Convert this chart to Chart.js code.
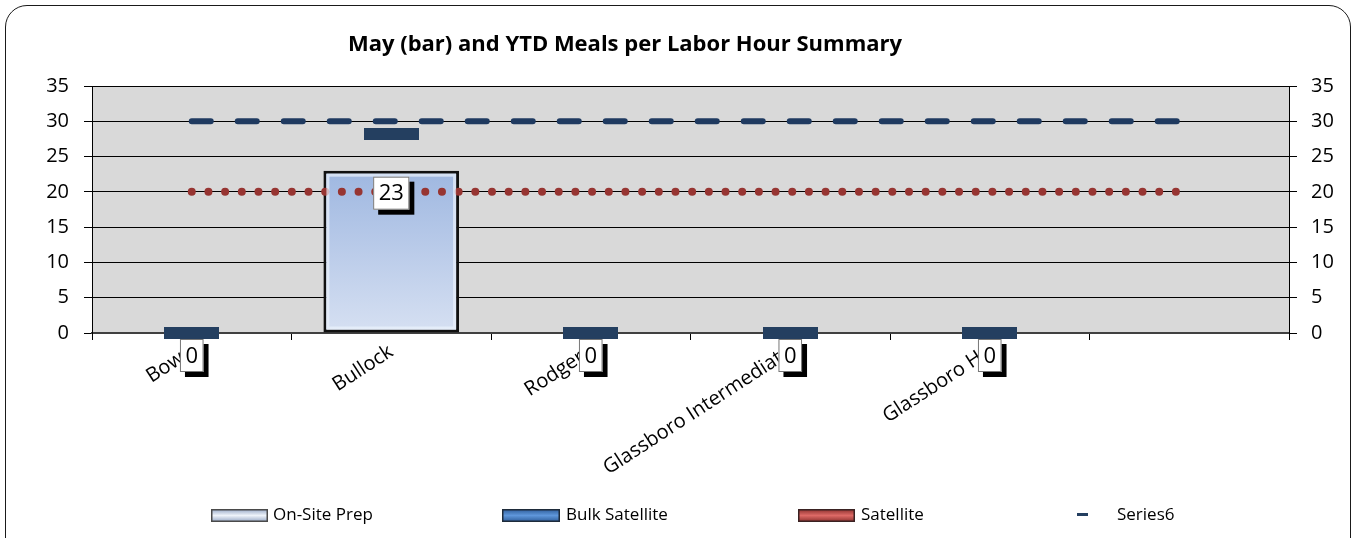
<!DOCTYPE html>
<html>
<head>
<meta charset="utf-8">
<script src="https://cdn.jsdelivr.net/npm/chart.js@4.4.0/dist/chart.umd.min.js"></script>
<style>
  html, body { margin: 0; padding: 0; background: #fff; overflow: hidden; }
  #wrap { position: relative; width: 1353px; height: 538px; }
  #frame { position: absolute; left: 5px; top: 5px; width: 1346px; height: 570px; border: 1.5px solid #1a1a1a; border-radius: 22px; box-sizing: border-box; pointer-events: none; }
  canvas { position: absolute; left: 0; top: 0; }
</style>
</head>
<body>
<div id="wrap">
  <canvas id="mealsChart" width="1353" height="538"></canvas>
  <div id="frame"></div>
</div>
<script>
// chart values
const schools = ['Bowe', 'Bullock', 'Rodgers', 'Glassboro Intermediate', 'Glassboro HS', ''];
const onSitePrep = [0, 23, 0, 0, 0, null];
const bulkSatellite = [30, 30, 30, 30, 30, 30];
const satellite = [20, 20, 20, 20, 20, 20];
const series6 = [0, 28.2, 0, 0, 0, null];
const yTicks = [0, 5, 10, 15, 20, 25, 30, 35];
const chartTitle = 'May (bar) and YTD Meals per Labor Hour Summary';
const legendNames = ['On-Site Prep', 'Bulk Satellite', 'Satellite', 'Series6'];

const FONT = '"Open Sans", "DejaVu Sans", sans-serif';
Chart.defaults.font.family = FONT;
Chart.defaults.color = '#000';

// big dash marker used for Series6
function dashMarker(w, h, color) {
    const c = document.createElement('canvas');
    c.width = w;
    c.height = h;
    const g = c.getContext('2d');
    g.fillStyle = color;
    g.fillRect(0, 0, w, h);
    return c;
}

function barFill(context) {
    const chart = context.chart;
    const area = chart.chartArea;
    if (!area) return '#B9CBEA';
    const g = chart.ctx.createLinearGradient(0, area.top + 80, 0, area.bottom);
    g.addColorStop(0, '#9DB6E0');
    g.addColorStop(1, '#D6E0F2');
    return g;
}

function drawLegendBar(ctx, x, y, w, h, edge, mid, border) {
    const g = ctx.createLinearGradient(0, y, 0, y + h);
    g.addColorStop(0, edge);
    g.addColorStop(0.5, mid);
    g.addColorStop(1, edge);
    ctx.fillStyle = g;
    ctx.fillRect(x, y, w, h);
    ctx.strokeStyle = border;
    ctx.lineWidth = 1.5;
    ctx.strokeRect(x + 0.75, y + 0.75, w - 1.5, h - 1.5);
}

const decorPlugin = {
    id: 'decor',
    beforeDraw(chart) {
        const { ctx, chartArea: a } = chart;
        ctx.save();
        ctx.fillStyle = '#D9D9D9';
        ctx.fillRect(a.left, a.top, a.right - a.left, a.bottom - a.top);
        ctx.restore();
    },
    afterDatasetsDraw(chart) {
        // soft inner highlight on the bar edges
        const ctx = chart.ctx;
        const meta = chart.getDatasetMeta(0);
        ctx.save();
        meta.data.forEach((el, i) => {
            if (!onSitePrep[i]) return;
            const left = el.x - el.width / 2, top = el.y;
            ctx.strokeStyle = 'rgba(235,242,252,0.7)';
            ctx.lineWidth = 3;
            ctx.strokeRect(left + 4.5, top + 4.5, el.width - 9, el.base - top - 9);
        });
        ctx.restore();
    },
    afterDraw(chart) {
        const ctx = chart.ctx;
        ctx.save();

        // title
        ctx.font = 'bold 22px ' + FONT;
        ctx.fillStyle = '#000';
        ctx.textAlign = 'center';
        ctx.textBaseline = 'middle';
        ctx.fillText(chartTitle, 625, 45);

        // value labels on the On-Site Prep bars
        const meta = chart.getDatasetMeta(0);
        ctx.font = '22px ' + FONT;
        meta.data.forEach((el, i) => {
            const v = onSitePrep[i];
            if (v === null) return;
            const txt = String(v);
            const w = ctx.measureText(txt).width + 11;
            const h = 33;
            const x = el.x - w / 2;
            const y = el.y + 6;
            ctx.fillStyle = '#000';
            ctx.fillRect(x + 5, y + 5, w, h);
            ctx.fillStyle = '#fff';
            ctx.fillRect(x, y, w, h);
            ctx.strokeStyle = '#777';
            ctx.lineWidth = 1;
            ctx.strokeRect(x + 0.5, y + 0.5, w - 1, h - 1);
            ctx.fillStyle = '#000';
            ctx.textAlign = 'center';
            ctx.textBaseline = 'middle';
            ctx.fillText(txt, el.x, y + h / 2 + 1);
        });

        // legend
        const ly = 509;
        drawLegendBar(ctx, 211, ly, 57, 13, '#95A6C4', '#EEF3FA', '#4A4A4A');
        drawLegendBar(ctx, 502, ly, 58, 13, '#2C5B98', '#5F97DB', '#1E2B3A');
        drawLegendBar(ctx, 798, ly, 57, 13, '#8A2E2C', '#DE6A66', '#3A2222');
        ctx.fillStyle = '#243F60';
        ctx.fillRect(1077, 513, 11, 3);
        ctx.font = '17px ' + FONT;
        ctx.fillStyle = '#000';
        ctx.textAlign = 'left';
        ctx.textBaseline = 'middle';
        const textX = [273, 566, 861, 1117];
        legendNames.forEach((n, i) => ctx.fillText(n, textX[i], 515));

        ctx.restore();
    }
};

const ctx = document.getElementById('mealsChart').getContext('2d');

new Chart(ctx, {
    type: 'bar',
    data: {
        labels: schools,
        datasets: [
            {
                label: 'On-Site Prep',
                data: onSitePrep,
                backgroundColor: barFill,
                borderColor: '#111',
                borderWidth: (c) => (c.raw ? 3 : 0),
                borderSkipped: false,
                categoryPercentage: 1,
                barPercentage: 0.68,
                order: 5
            },
            {
                type: 'line',
                label: 'Bulk Satellite',
                data: bulkSatellite,
                borderColor: '#1F3A60',
                borderWidth: 6,
                borderDash: [19, 27],
                borderCapStyle: 'round',
                pointRadius: 0,
                fill: false,
                order: 2
            },
            {
                type: 'line',
                label: 'Satellite',
                data: satellite,
                borderColor: '#973532',
                borderWidth: 8,
                borderDash: [0.01, 16.67],
                borderCapStyle: 'round',
                pointRadius: 0,
                fill: false,
                order: 3
            },
            {
                type: 'line',
                label: 'Series6',
                data: series6,
                showLine: false,
                pointStyle: dashMarker(55, 12, '#243F60'),
                pointRadius: 6,
                clip: false,
                order: 1
            }
        ]
    },
    options: {
        responsive: false,
        animation: false,
        devicePixelRatio: 1,
        events: [],
        layout: { padding: { top: 86, left: 0, right: 0, bottom: 0 } },
        plugins: {
            legend: { display: false },
            title: { display: false },
            tooltip: { enabled: false }
        },
        scales: {
            x: {
                offset: true,
                grid: { drawOnChartArea: false, color: '#000', tickLength: 7, offset: true },
                border: { color: '#404040', width: 2 },
                ticks: {
                    minRotation: 33,
                    maxRotation: 33,
                    autoSkip: false,
                    padding: 0,
                    font: { size: 20 },
                    color: '#000'
                },
                afterFit: (axis) => { axis.height = 205; }
            },
            y: {
                position: 'left',
                min: 0,
                max: 35,
                afterBuildTicks: (axis) => { axis.ticks = yTicks.map(v => ({ value: v })); },
                grid: { color: '#000', lineWidth: 1, tickLength: 8 },
                border: { color: '#000', width: 1 },
                ticks: { padding: 15, font: { size: 20 }, color: '#000' },
                afterFit: (axis) => { axis.width = 92; }
            },
            y2: {
                position: 'right',
                min: 0,
                max: 35,
                afterBuildTicks: (axis) => { axis.ticks = yTicks.map(v => ({ value: v })); },
                grid: { drawOnChartArea: false, color: '#000', lineWidth: 1, tickLength: 8 },
                border: { color: '#000', width: 1 },
                ticks: { padding: 14, font: { size: 20 }, color: '#000' },
                afterFit: (axis) => { axis.width = 64; }
            }
        }
    },
    plugins: [decorPlugin]
});
</script>
</body>
</html>
